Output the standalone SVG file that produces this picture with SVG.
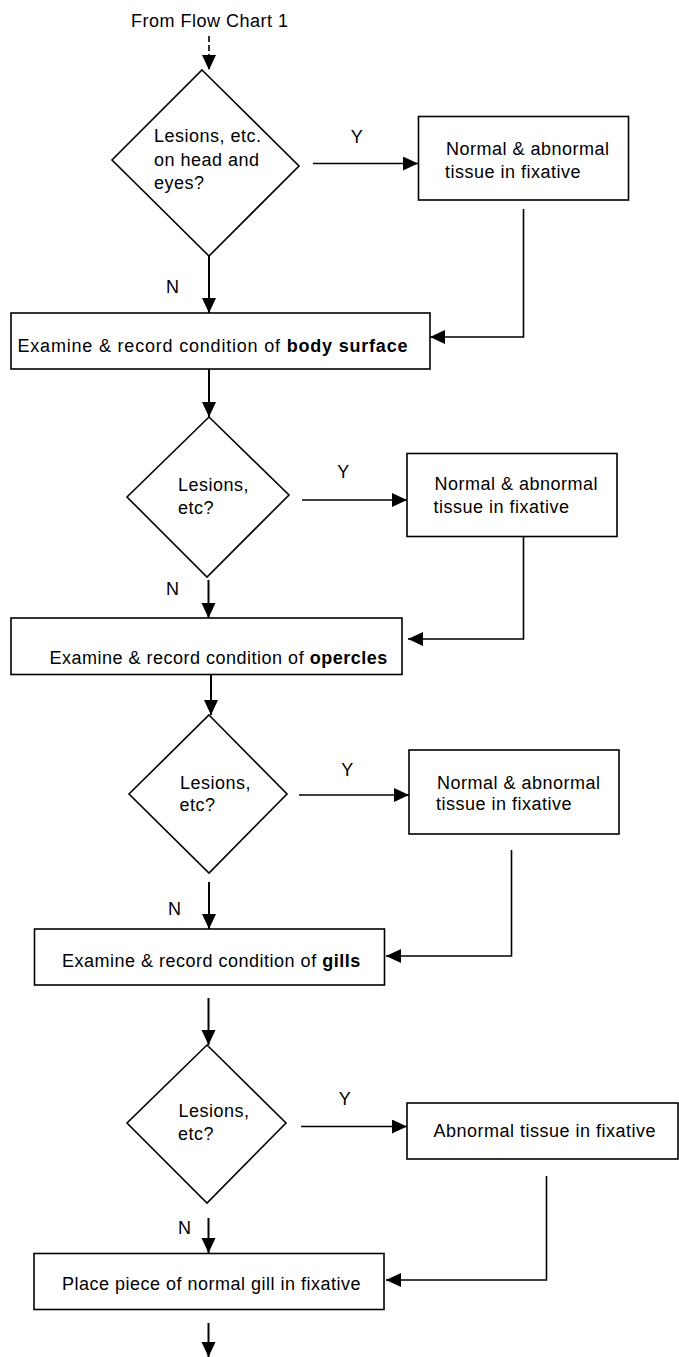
<svg xmlns="http://www.w3.org/2000/svg" width="679" height="1357" viewBox="0 0 679 1357">
<style>
text{font-family:"Liberation Sans",Arial,sans-serif;font-size:18px;letter-spacing:0.5px;fill:#000}
.b{font-weight:bold}
.shape{fill:#fff;stroke:#000;stroke-width:1.6}
.c{fill:none;stroke:#000;stroke-width:1.6}
.v{stroke-width:2}
.mid{text-anchor:middle}
</style>
<defs>
<marker id="ah" markerUnits="userSpaceOnUse" markerWidth="16" markerHeight="16" refX="15" refY="7" orient="auto">
<path d="M0,0 L15,7 L0,14 z" fill="#000"/>
</marker>
</defs>
<rect width="679" height="1357" fill="#fff"/>
<text x="131" y="27">From Flow Chart 1</text>

<g id="connectors">
<line class="c" x1="209" y1="36" x2="209" y2="70" stroke-dasharray="6,3" marker-end="url(#ah)"/>
<line class="c" x1="313" y1="163.5" x2="418" y2="163.5" marker-end="url(#ah)"/>
<line class="c v" x1="209" y1="256" x2="209" y2="313" marker-end="url(#ah)"/>
<polyline class="c" points="523.5,209 523.5,337 430,337" marker-end="url(#ah)"/>
<line class="c v" x1="209" y1="369" x2="209" y2="417" marker-end="url(#ah)"/>
<line class="c" x1="302" y1="500" x2="407" y2="500" marker-end="url(#ah)"/>
<line class="c v" x1="208.5" y1="580" x2="208.5" y2="618" marker-end="url(#ah)"/>
<polyline class="c" points="523.5,536 523.5,639 408,639" marker-end="url(#ah)"/>
<line class="c v" x1="211" y1="666" x2="211" y2="715" marker-end="url(#ah)"/>
<line class="c" x1="299" y1="795" x2="409" y2="795" marker-end="url(#ah)"/>
<line class="c v" x1="209" y1="882" x2="209" y2="929" marker-end="url(#ah)"/>
<polyline class="c" points="511.5,850 511.5,956 386,956" marker-end="url(#ah)"/>
<line class="c v" x1="208.5" y1="998" x2="208.5" y2="1045" marker-end="url(#ah)"/>
<line class="c" x1="301" y1="1126.5" x2="407" y2="1126.5" marker-end="url(#ah)"/>
<line class="c v" x1="208.5" y1="1218" x2="208.5" y2="1253" marker-end="url(#ah)"/>
<polyline class="c" points="546.5,1176 546.5,1280 386,1280" marker-end="url(#ah)"/>
<line class="c v" x1="208.5" y1="1323" x2="208.5" y2="1357" marker-end="url(#ah)"/>
<text class="mid" x="357" y="143">Y</text>
<text x="166" y="293">N</text>
<text class="mid" x="343.5" y="478">Y</text>
<text x="166" y="595">N</text>
<text class="mid" x="347.5" y="776">Y</text>
<text x="168" y="915">N</text>
<text class="mid" x="345" y="1105">Y</text>
<text x="178" y="1234">N</text>
</g>

<g id="d1">
<polygon class="shape" points="202,70 299,166 209,256 112,160"/>
<text x="154" y="142">Lesions, etc.</text>
<text x="154" y="165.5">on head and</text>
<text x="154" y="188.5">eyes?</text>
</g>
<g id="b1">
<rect class="shape" x="418.5" y="116.5" width="210" height="83.5"/>
<text x="446" y="154.5">Normal &amp; abnormal</text>
<text x="445" y="177.5">tissue in fixative</text>
</g>
<g id="p1">
<rect class="shape" x="11" y="313" width="419" height="56"/>
<text x="17.5" y="352" style="letter-spacing:0.8px">Examine &amp; record condition of <tspan class="b">body surface</tspan></text>
</g>

<g id="d2">
<polygon class="shape" points="209,417 289,495 207,577 127,497"/>
<text x="178" y="491">Lesions,</text>
<text x="178" y="513.5">etc?</text>
</g>
<g id="b2">
<rect class="shape" x="407" y="453.5" width="210" height="83"/>
<text x="434.5" y="490">Normal &amp; abnormal</text>
<text x="433.5" y="512.5">tissue in fixative</text>
</g>
<g id="p2">
<rect class="shape" x="11" y="618" width="391" height="56.5"/>
<text x="49.5" y="663.5">Examine &amp; record condition of <tspan class="b">opercles</tspan></text>
</g>

<g id="d3">
<polygon class="shape" points="209,715 287,794 209,873 129,794"/>
<text x="180" y="788.5">Lesions,</text>
<text x="179.5" y="811">etc?</text>
</g>
<g id="b3">
<rect class="shape" x="409" y="750" width="210" height="84"/>
<text x="437" y="788.5">Normal &amp; abnormal</text>
<text x="436" y="810">tissue in fixative</text>
</g>
<g id="p3">
<rect class="shape" x="34.5" y="929" width="350" height="56"/>
<text x="62" y="967">Examine &amp; record condition of <tspan class="b">gills</tspan></text>
</g>

<g id="d4">
<polygon class="shape" points="207,1045 286,1123 207,1203 127,1123"/>
<text x="178.5" y="1117">Lesions,</text>
<text x="178" y="1140">etc?</text>
</g>
<g id="b4">
<rect class="shape" x="407" y="1103" width="271" height="56"/>
<text x="433.5" y="1137">Abnormal tissue in fixative</text>
</g>
<g id="p4">
<rect class="shape" x="34" y="1253.5" width="350" height="56"/>
<text x="62" y="1290">Place piece of normal gill in fixative</text>
</g>
</svg>
